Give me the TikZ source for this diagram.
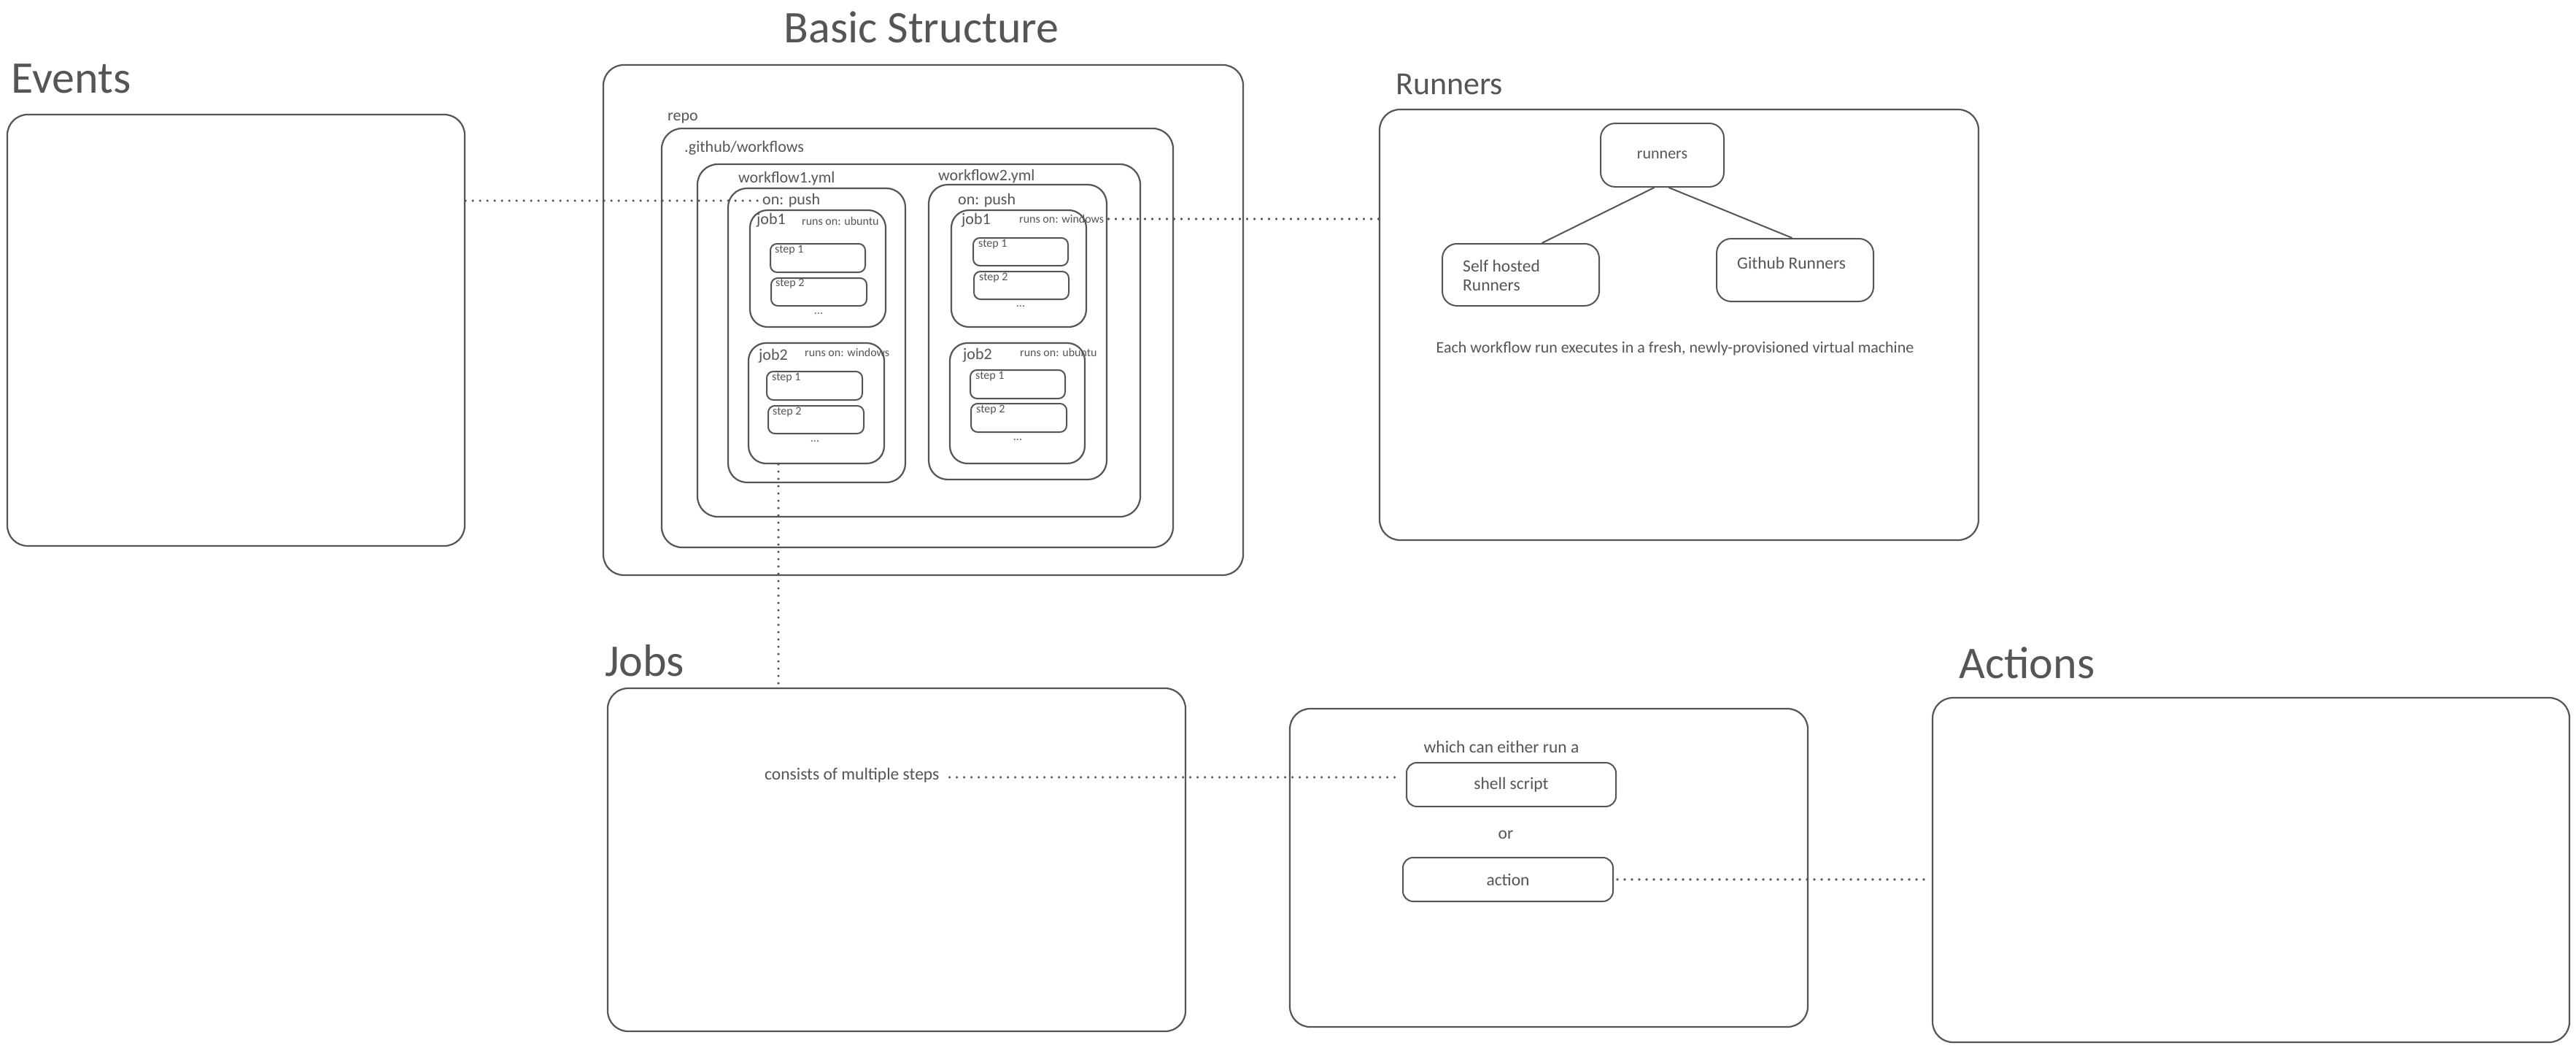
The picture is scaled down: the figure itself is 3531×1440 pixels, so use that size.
\documentclass[tikz,border=0pt]{standalone}
\usepackage{fontspec}
\setmainfont{Carlito}
\usetikzlibrary{positioning, fit}

\definecolor{ink}{HTML}{555555}

\tikzset{
    frame/.style={draw=ink, line width=2.2pt, rounded corners=28pt, inner sep=0pt},
    jobbox/.style={draw=ink, line width=2.2pt, rounded corners=24pt, inner sep=0pt},
    stepbox/.style={draw=ink, line width=2pt, rounded corners=9pt, inner sep=0pt},
    headtext/.style={text=ink, inner sep=0pt, font=\fontsize{62}{70}\selectfont},
    subhead/.style={text=ink, inner sep=0pt, font=\fontsize{44}{50}\selectfont},
    midtext/.style={text=ink, inner sep=0pt, font=\fontsize{22}{26}\selectfont},
    bodytext/.style={text=ink, inner sep=0pt, font=\fontsize{23.5}{26}\selectfont},
    smalltext/.style={text=ink, inner sep=0pt, font=\fontsize{16}{19}\selectfont},
    link/.style={draw=ink, line width=3.6pt, line cap=round, dash pattern=on 0pt off 10pt},
}

\begin{document}
\begin{tikzpicture}[x=1pt, y=-1pt]
    \useasboundingbox[fill=white] (0, 0) rectangle (3531, 1440);

    % 事件
    \node[headtext, anchor=west] (events-t) at (15, 108) {Events};
    \node[frame, fit={(10, 157) (637, 748)}] (events) {};

    % 基本结构
    \node[headtext] (basic-t) at (1263, 37) {Basic Structure};
    \node[frame, fit={(827, 89) (1704, 788)}] (basic) {};
    \node[midtext, anchor=west] (repo-t) at (915, 162) {repo};
    \node[frame, fit={(907, 176) (1608, 750)}] (repo) {};
    \node[midtext, anchor=west] (gh-t) at (938, 203) {.github/workflows};
    \node[frame, fit={(956, 225) (1563, 708)}] (gh) {};

    % workflow1.yml
    \node[midtext, anchor=west] (wf1-t) at (1012, 245) {workflow1.yml};
    \node[frame, rounded corners=26pt, fit={(998, 258) (1241, 661)}] (wf1) {};
    \node[midtext, anchor=west] (wf1-push) at (1045, 275) {on: push};

    \node[jobbox, fit={(1028, 288) (1214, 448)}] (wf1-job1) {};
    \node[midtext, anchor=west] (wf1-job1-t) at (1037, 302) {job1};
    \node[smalltext, anchor=west] (wf1-job1-r) at (1099, 303) {runs on: ubuntu};
    \node[stepbox, fit={(1056, 334) (1186, 373)}] (wf1-job1-s1) {};
    \node[smalltext, anchor=west] (wf1-job1-s1t) at (1062, 343) {step 1};
    \node[stepbox, fit={(1057, 381) (1188, 419)}] (wf1-job1-s2) {};
    \node[smalltext, anchor=west] (wf1-job1-s2t) at (1063, 389) {step 2};
    \node[smalltext] (wf1-job1-d) at (1122, 430) {...};

    \node[jobbox, fit={(1026, 470) (1212, 635)}] (wf1-job2) {};
    \node[midtext, anchor=west] (wf1-job2-t) at (1040, 488) {job2};
    \node[smalltext, anchor=west] (wf1-job2-r) at (1103, 483) {runs on: windows};
    \node[stepbox, fit={(1051, 509) (1182, 548)}] (wf1-job2-s1) {};
    \node[smalltext, anchor=west] (wf1-job2-s1t) at (1058, 518) {step 1};
    \node[stepbox, fit={(1053, 556) (1184, 594)}] (wf1-job2-s2) {};
    \node[smalltext, anchor=west] (wf1-job2-s2t) at (1059, 565) {step 2};
    \node[smalltext] (wf1-job2-d) at (1117, 605) {...};

    % workflow2.yml
    \node[midtext, anchor=west] (wf2-t) at (1286, 242) {workflow2.yml};
    \node[frame, rounded corners=26pt, fit={(1273, 253) (1517, 657)}] (wf2) {};
    \node[midtext, anchor=west] (wf2-push) at (1313, 275) {on: push};

    \node[jobbox, fit={(1304, 288) (1489, 448)}] (wf2-job1) {};
    \node[midtext, anchor=west] (wf2-job1-t) at (1318, 302) {job1};
    \node[smalltext, anchor=west] (wf2-job1-r) at (1397, 300) {runs on: windows};
    \node[stepbox, fit={(1334, 326) (1464, 364)}] (wf2-job1-s1) {};
    \node[smalltext, anchor=west] (wf2-job1-s1t) at (1341, 335) {step 1};
    \node[stepbox, fit={(1335, 372) (1465, 410)}] (wf2-job1-s2) {};
    \node[smalltext, anchor=west] (wf2-job1-s2t) at (1342, 381) {step 2};
    \node[smalltext] (wf2-job1-d) at (1399, 420) {...};

    \node[jobbox, fit={(1302, 470) (1487, 635)}] (wf2-job2) {};
    \node[midtext, anchor=west] (wf2-job2-t) at (1320, 487) {job2};
    \node[smalltext, anchor=west] (wf2-job2-r) at (1398, 483) {runs on: ubuntu};
    \node[stepbox, fit={(1330, 507) (1460, 546)}] (wf2-job2-s1) {};
    \node[smalltext, anchor=west] (wf2-job2-s1t) at (1337, 516) {step 1};
    \node[stepbox, fit={(1331, 553) (1462, 592)}] (wf2-job2-s2) {};
    \node[smalltext, anchor=west] (wf2-job2-s2t) at (1338, 562) {step 2};
    \node[smalltext] (wf2-job2-d) at (1395, 603) {...};

    % 运行器
    \node[subhead, anchor=west] (runbox-t) at (1913, 116) {Runners};
    \node[frame, fit={(1891, 150) (2712, 740)}] (runbox) {};
    \node[stepbox, rounded corners=20pt, fit={(2194, 169) (2363, 256)}] (runners) {};
    \node[midtext] (runners-t) at (runners) {runners};
    \node[stepbox, rounded corners=20pt, fit={(1977, 334) (2192, 419)}] (selfhosted) {};
    \node[bodytext, align=left, anchor=west] (selfhosted-t) at (2005, 377) {Self hosted\\Runners};
    \node[stepbox, rounded corners=20pt, fit={(2353, 327) (2568, 413)}] (github) {};
    \node[bodytext, anchor=west] (github-t) at (2381, 360) {Github Runners};
    \node[midtext] (fresh-t) at (2296, 478) {Each workflow run executes in a fresh, newly-provisioned virtual machine};

    \draw[ink, line width=2pt] ([xshift=-11pt]runners.south) -- ([xshift=29pt]selfhosted.north);
    \draw[ink, line width=2pt] ([xshift=9pt]runners.south) -- ([xshift=-4pt]github.north);

    % 作业
    \node[headtext, anchor=west] (jobs-t) at (829, 905) {Jobs};
    \node[frame, fit={(833, 943) (1625, 1413)}] (jobs) {};
    \node[bodytext, anchor=west] (consists) at (1048, 1062) {consists of multiple steps};

    % 步骤
    \node[frame, fit={(1768, 971) (2478, 1407)}] (steps) {};
    \node[bodytext] (either) at (2058, 1023) {which can either run a};
    \node[stepbox, rounded corners=14pt, fit={(1928, 1045) (2215, 1105)}] (shell) {};
    \node[bodytext] (shell-t) at (shell) {shell script};
    \node[bodytext] (or) at (2064, 1144) {or};
    \node[stepbox, rounded corners=14pt, fit={(1923, 1175) (2211, 1235)}] (action) {};
    \node[bodytext] (action-t) at (action) {action};

    % 动作
    \node[headtext, anchor=west] (actions-t) at (2685, 908) {Actions};
    \node[frame, fit={(2649, 956) (3522, 1428)}] (actions) {};

    % 虚线连接
    \draw[link] (events.east |- wf1-push.west) -- ([xshift=-4pt]wf1-push.west);
    \draw[link] ([xshift=6pt]wf2-job1-r.east) -- (runbox.west |- wf2-job1-r.east);
    \coordinate (drop) at ([xshift=-52pt]wf1-job2.south);
    \draw[link] (drop) -- (drop |- jobs.north);
    \coordinate (cons) at ([xshift=14pt, yshift=-3pt]consists.east);
    \draw[link] (cons) -- ([xshift=-8pt]cons -| shell.west);
    \coordinate (act) at ([xshift=5pt]action.east);
    \draw[link] (act) -- ([xshift=-5pt]act -| actions.west);
\end{tikzpicture}
\end{document}
